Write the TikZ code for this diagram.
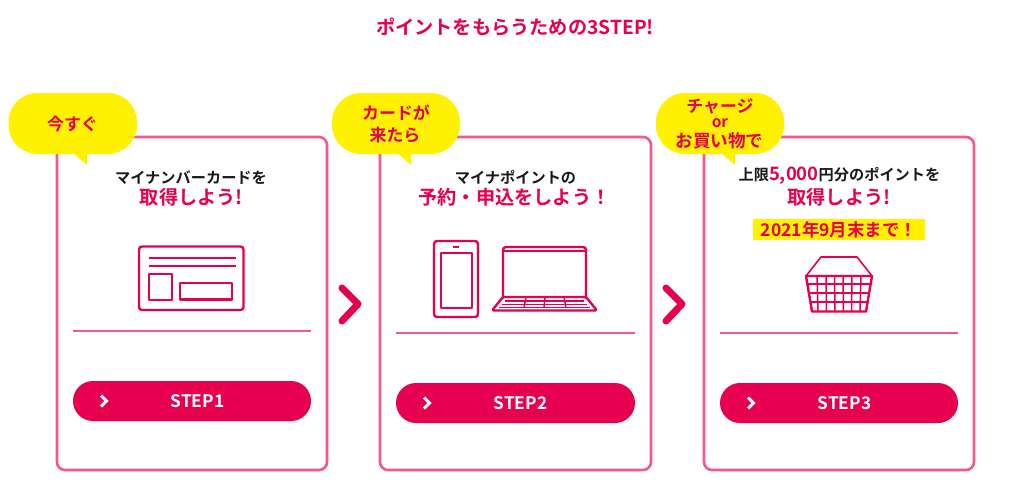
\documentclass[tikz,border=0pt]{standalone}
\usepackage{fontspec}
\setmainfont[BoldFont={Noto Sans CJK JP Bold}]{Noto Sans CJK JP}
\definecolor{hot}{HTML}{E6004F}
\definecolor{edgepink}{HTML}{F3598A}
\definecolor{sun}{HTML}{FFF100}
\definecolor{ink}{HTML}{1A1A1A}
\newcommand{\fs}[1]{\fontsize{#1}{#1}\selectfont}
\tikzset{
  card/.style={draw=edgepink,line width=2.6pt,rounded corners=8pt,fill=white},
  divider/.style={fill=edgepink},
  pill/.style={fill=hot,rounded corners=20pt},
  bubble/.style={fill=sun,rounded corners=29pt},
  icon/.style={draw=hot,line width=2.4pt,line join=round},
  iconthin/.style={draw=hot,line width=1.5pt},
  bigchev/.style={draw=hot,line width=7pt,line cap=round,line join=round},
  smallchev/.style={draw=white,line width=3pt,line join=miter},
  blackt/.style={text=ink,font=\bfseries\fs{15.2},inner sep=0pt,anchor=center},
  pinkt/.style={text=hot,font=\bfseries\fs{19.2},inner sep=0pt,anchor=center},
  bubt/.style={text=hot,font=\bfseries\fs{16.9},inner sep=0pt,anchor=center},
  stept/.style={text=white,font=\bfseries\fs{17.3},inner sep=0pt,anchor=center},
}
\begin{document}
\begin{tikzpicture}[x=1pt,y=-1pt]
\useasboundingbox (0,0) rectangle (1024,485);
\fill[white] (0,0) rectangle (1024,485);
\node[pinkt,font=\bfseries\fs{19.2}] (title) at (515,27) {ポイントをもらうための3STEP!};
% cards
\draw[card] (57,137) rectangle (327,470);
\draw[card] (380,137) rectangle (651,470);
\draw[card] (704,137) rectangle (974,470);
% separators
\fill[divider] (73,330.4) rectangle (311,332.4);
\fill[divider] (396,332.4) rectangle (635,334.4);
\fill[divider] (720,332.4) rectangle (958,334.4);
% buttons
\fill[pill] (73,381) rectangle (311,421);
\fill[pill] (396,383) rectangle (635,423);
\fill[pill] (720,383) rectangle (958,423);
\draw[smallchev] (101,395.5) -- (106.5,401) -- (101,406.5);
\draw[smallchev] (424,397.5) -- (429.5,403) -- (424,408.5);
\draw[smallchev] (748,397.5) -- (753.5,403) -- (748,408.5);
\node[stept] (s1) at (197.5,401) {STEP1};
\node[stept] (s2) at (520.5,403) {STEP2};
\node[stept] (s3) at (844.5,403) {STEP3};
% big chevrons
\draw[bigchev] (342,288) -- (358,304) -- (342,321);
\draw[bigchev] (666,288) -- (682,304) -- (666,321);
% bubbles
\fill[bubble] (8.5,93) rectangle (137,154);
\fill[sun] (72,152) -- (87,165) -- (87,152) -- cycle;
\fill[bubble] (332,93) rectangle (460,154);
\fill[sun] (396,152) -- (411,165) -- (411,152) -- cycle;
\fill[bubble] (656,93) rectangle (784,154);
\fill[sun] (720,152) -- (735,165) -- (735,152) -- cycle;
\node[bubt] (b1) at (72.5,124) {今すぐ};
\node[bubt] (b2a) at (396,112.5) {カードが};
\node[bubt] (b2b) at (395,135.5) {来たら};
\node[bubt] (b3a) at (720,106.5) {チャージ};
\node[bubt,font=\bfseries\fs{15.5}] (b3b) at (720,123) {or};
\node[bubt,font=\bfseries\fs{17.6}] (b3c) at (719.5,140.5) {お買い物で};
% headings
\node[blackt] (h1) at (191,177.5) {マイナンバーカードを};
\node[pinkt] (h1b) at (191.5,197.5) {取得しよう!};
\node[blackt] (h2) at (515.5,177.5) {マイナポイントの};
\node[pinkt] (h2b) at (514.5,197.5) {予約・申込をしよう！};
\node[blackt,text=ink] (h3) at (839.5,175.5) {上限\textcolor{hot}{\fs{18.5}5,000}円分のポイントを};
\node[pinkt] (h3b) at (839,197.5) {取得しよう!};
\fill[sun] (753,219) rectangle (925,239.5);
\node[text=hot,font=\bfseries\fs{17.5},inner sep=0pt] (dl) at (839,229.5) {2021年9月末まで！};
% card icon
\draw[icon,rounded corners=3pt] (139,246.5) rectangle (243.5,310);
\draw[icon] (148.5,258) -- (236,258);
\draw[icon] (148.5,266) -- (236,266);
\draw[icon] (149,274) rectangle (172,300);
\draw[icon] (180,283) rectangle (232,299.5);
% phone
\draw[icon,rounded corners=3pt] (434,241) rectangle (478,317);
\draw[icon] (441,253) rectangle (472,308);
\draw[icon] (453,247) -- (459,247);
% laptop
\draw[icon,rounded corners=3pt] (503,297) -- (503,247) -- (586,247) -- (586,297);
\draw[iconthin] (503,251) -- (586,251);
\draw[icon,line join=round,rounded corners=1.5pt] (503,297) -- (586,297) -- (597,310.5) -- (492,310.5) -- cycle;
\draw[iconthin] (505,301) -- (584,301);
\draw[iconthin] (502,304.5) -- (587,304.5);
\draw[iconthin] (499,307.5) -- (590,307.5);
\draw[iconthin] (526,297) -- (524,307.5);
\draw[iconthin] (545,297) -- (544,307.5);
\draw[iconthin] (564,297) -- (566,307.5);
% basket
\draw[icon,line width=1.6pt] (806,276) -- (821,257) -- (857,257) -- (872,276);
\draw[icon] (806,276) -- (872,276) -- (866,311.5) -- (812,311.5) -- cycle;
\foreach \a/\b in {817/818,826/826.5,834.5/835,843/843.5,852/851.5,861/860}
  \draw[iconthin] (\a,276) -- (\b,311.5);
\draw[iconthin] (807.5,284) -- (870.5,284);
\draw[iconthin] (809,293) -- (869,293);
\draw[iconthin] (810.5,302) -- (867.5,302);
\end{tikzpicture}
\end{document}
